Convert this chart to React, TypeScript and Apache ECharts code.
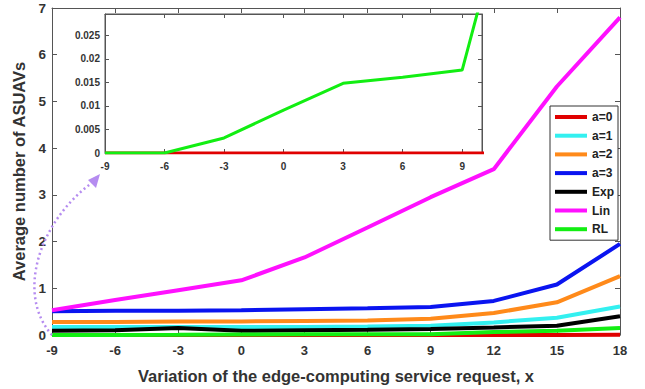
import React, { useEffect, useRef } from "react";
import * as echarts from "echarts";

const xValues = [-9, -6, -3, 0, 3, 6, 9, 12, 15, 18];
const a0 = [0, 0, 0, 0, 0, 0, 0, 0, 0, 0.005];
const a1 = [0.17, 0.17, 0.17, 0.17, 0.17, 0.18, 0.2, 0.27, 0.37, 0.61];
const a2 = [0.28, 0.28, 0.29, 0.29, 0.3, 0.31, 0.35, 0.47, 0.7, 1.26];
const a3 = [0.51, 0.52, 0.52, 0.53, 0.55, 0.57, 0.6, 0.73, 1.08, 1.95];
const expV = [0.09, 0.1, 0.15, 0.09, 0.1, 0.11, 0.13, 0.16, 0.2, 0.4];
const lin = [0.53, 0.75, 0.96, 1.17, 1.66, 2.3, 2.95, 3.55, 5.32, 6.8];
const rl = [0, 0, 0.0032, 0.0091, 0.0148, 0.0161, 0.0176, 0.065, 0.09, 0.15];

const names = ["a=0", "a=1", "a=2", "a=3", "Exp", "Lin", "RL"];
const colors = ["#e00000", "#33f0f0", "#ff8a1a", "#0a14f0", "#000000", "#ff10ff", "#12ee12"];
const seriesData = [a0, a1, a2, a3, expV, lin, rl];

const insetYTicks = [0, 0.005, 0.01, 0.015, 0.02, 0.025];

const FONT = "'Liberation Sans', Arial, sans-serif";

export default function App() {
  const ref = useRef<HTMLDivElement>(null);
  useEffect(() => {
    if (!ref.current) return;
    const chart = echarts.init(ref.current, null, { renderer: "svg" });
    const pair = (arr: number[]) => xValues.map((x, i) => [x, arr[i]]);
    const labelStyle = { color: "#333", fontWeight: "bold" as const, fontFamily: FONT };
    const axisLineStyle = { lineStyle: { color: "#555", width: 1 } };

    const mainSeries = names.map((n, i) => ({
      name: n,
      type: "line",
      xAxisIndex: 0,
      yAxisIndex: 0,
      data: pair(seriesData[i]),
      showSymbol: false,
      symbol: "none",
      lineStyle: { width: 4, color: colors[i] },
      itemStyle: { color: colors[i] },
      z: 2,
    }));
    const insetSeries = [0, 6].map((i) => ({
      name: names[i],
      type: "line",
      xAxisIndex: 2,
      yAxisIndex: 2,
      data: pair(seriesData[i]),
      showSymbol: false,
      symbol: "none",
      lineStyle: { width: 3, color: colors[i] },
      itemStyle: { color: colors[i] },
      z: 10,
      zlevel: 1,
    }));

    chart.setOption({
      animation: false,
      backgroundColor: "#fff",
      textStyle: { fontFamily: FONT },
      grid: [
        { left: 52, right: 25, top: 8, bottom: 53, show: false },
        {
          left: 105,
          top: 14,
          width: 377,
          height: 139,
          show: true,
          backgroundColor: "#fff",
          borderColor: "#555",
          borderWidth: 1,
          zlevel: 1,
        },
      ],
      legend: {
        data: names,
        orient: "vertical",
        left: 550,
        top: 106,
        icon: "rect",
        itemWidth: 32,
        itemHeight: 4,
        itemGap: 4.7,
        itemTextGap: 3,
        padding: [4, 4, 4, 5],
        borderColor: "#333",
        borderWidth: 1,
        backgroundColor: "#fff",
        textStyle: { fontSize: 12, fontWeight: "bold", color: "#222", lineHeight: 14, fontFamily: FONT },
        selectedMode: false,
      },
      xAxis: [
        {
          type: "value",
          gridIndex: 0,
          min: -9,
          max: 18,
          interval: 3,
          position: "bottom",
          axisLine: { show: true, onZero: false, ...axisLineStyle },
          axisTick: { show: true, inside: true, length: 5, lineStyle: { color: "#555" } },
          axisLabel: { ...labelStyle, fontSize: 13, margin: 9 },
          splitLine: { show: false },
          name: "Variation of the edge-computing service request, x",
          nameLocation: "middle",
          nameGap: 32,
          nameTextStyle: { ...labelStyle, fontSize: 16.5 },
        },
        {
          type: "value",
          gridIndex: 0,
          min: -9,
          max: 18,
          interval: 3,
          position: "top",
          axisLine: { show: true, onZero: false, ...axisLineStyle },
          axisTick: { show: true, inside: true, length: 5, lineStyle: { color: "#555" } },
          axisLabel: { show: false },
          splitLine: { show: false },
        },
        {
          type: "value",
          gridIndex: 1,
          min: -9,
          max: 10,
          interval: 3,
          position: "bottom",
          axisLine: { show: true, onZero: false, ...axisLineStyle },
          axisTick: { show: true, inside: true, length: 4, lineStyle: { color: "#555" } },
          axisLabel: { ...labelStyle, fontSize: 10, margin: 8, showMaxLabel: false },
          splitLine: { show: false },
          zlevel: 1,
        },
        {
          type: "value",
          gridIndex: 1,
          min: -9,
          max: 10,
          interval: 3,
          position: "top",
          axisLine: { show: true, onZero: false, ...axisLineStyle },
          axisTick: { show: true, inside: true, length: 4, lineStyle: { color: "#555" } },
          axisLabel: { show: false },
          splitLine: { show: false },
          zlevel: 1,
        },
      ],
      yAxis: [
        {
          type: "value",
          gridIndex: 0,
          min: 0,
          max: 7,
          interval: 1,
          position: "left",
          axisLine: { show: true, onZero: false, ...axisLineStyle },
          axisTick: { show: true, inside: true, length: 5, lineStyle: { color: "#555" } },
          axisLabel: { ...labelStyle, fontSize: 13.5, margin: 6 },
          splitLine: { show: false },
          name: "Average number of ASUAVs",
          nameLocation: "middle",
          nameGap: 22,
          nameTextStyle: { ...labelStyle, fontSize: 16.5 },
        },
        {
          type: "value",
          gridIndex: 0,
          min: 0,
          max: 7,
          interval: 1,
          position: "right",
          axisLine: { show: true, onZero: false, ...axisLineStyle },
          axisTick: { show: true, inside: true, length: 5, lineStyle: { color: "#555" } },
          axisLabel: { show: false },
          splitLine: { show: false },
        },
        {
          type: "value",
          gridIndex: 1,
          min: 0,
          max: 0.0295,
          interval: 0.005,
          position: "left",
          axisLine: { show: true, onZero: false, ...axisLineStyle },
          axisTick: { show: true, inside: true, length: 4, lineStyle: { color: "#555" } },
          axisLabel: {
            ...labelStyle,
            fontSize: 10,
            margin: 5,
            showMaxLabel: false,
            formatter: (v: number) => {
              const t = insetYTicks.find((k) => Math.abs(k - v) < 1e-6);
              return t === undefined ? "" : String(t);
            },
          },
          splitLine: { show: false },
          zlevel: 1,
        },
        {
          type: "value",
          gridIndex: 1,
          min: 0,
          max: 0.0295,
          interval: 0.005,
          position: "right",
          axisLine: { show: true, onZero: false, ...axisLineStyle },
          axisTick: { show: true, inside: true, length: 4, lineStyle: { color: "#555" } },
          axisLabel: { show: false },
          splitLine: { show: false },
          zlevel: 1,
        },
      ],
      series: [...mainSeries, ...insetSeries],
      graphic: [
        {
          type: "bezierCurve",
          shape: { x1: 52, y1: 335, cpx1: 16, cpy1: 295, cpx2: 38, cpy2: 222, x2: 93, y2: 182 },
          style: { stroke: "#b58cf0", lineWidth: 2.5, lineDash: [2, 3], fill: null },
          z: 100,
        },
        {
          type: "polygon",
          shape: { points: [[100, 174], [88, 180], [96, 188]] },
          style: { fill: "#b58cf0" },
          z: 100,
        },
      ],
    });
    return () => chart.dispose();
  }, []);
  return (
    <div
      ref={ref}
      style={{ position: "absolute", left: 0, top: 0, width: 645, height: 389 }}
    />
  );
}
